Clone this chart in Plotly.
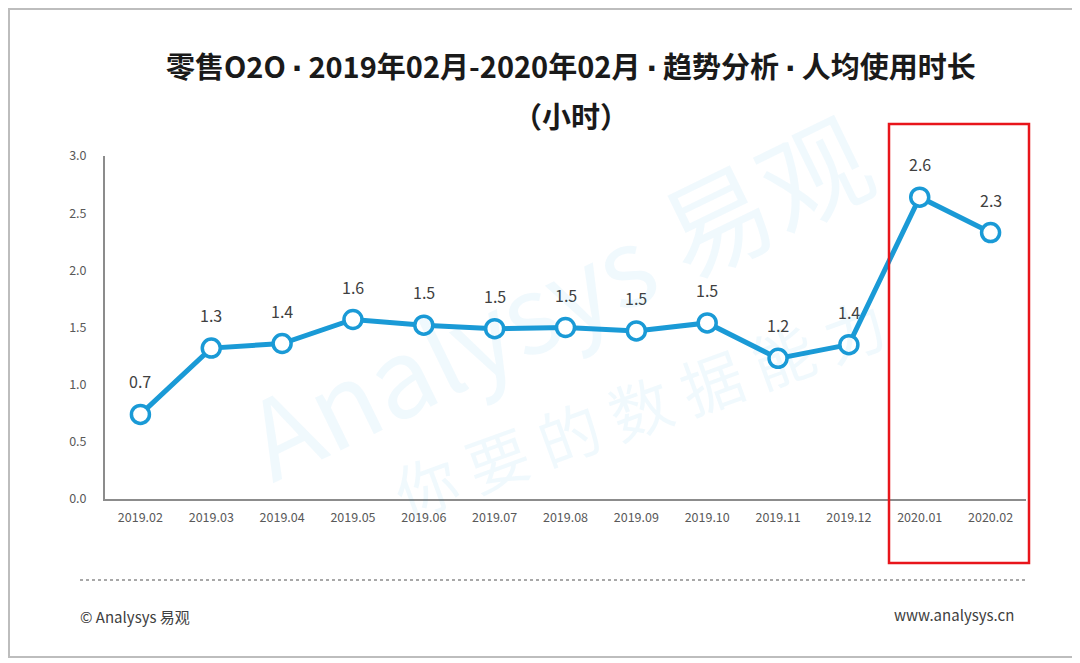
import plotly.graph_objects as go

months = ["2019.02", "2019.03", "2019.04", "2019.05", "2019.06", "2019.07", "2019.08",
          "2019.09", "2019.10", "2019.11", "2019.12", "2020.01", "2020.02"]
hours = [0.74, 1.32, 1.36, 1.57, 1.52, 1.49, 1.50, 1.47, 1.54, 1.23, 1.35, 2.64, 2.33]
labels = ["0.7", "1.3", "1.4", "1.6", "1.5", "1.5", "1.5", "1.5", "1.5", "1.2", "1.4", "2.6", "2.3"]
y_ticks = [0.0, 0.5, 1.0, 1.5, 2.0, 2.5, 3.0]

blue = "#1a9ad6"
font_cn = "Noto Sans CJK SC"

fig = go.Figure()
fig.add_trace(go.Scatter(
    x=months,
    y=hours,
    mode="lines+markers",
    line=dict(color=blue, width=5),
    marker=dict(size=18, color="white", line=dict(color=blue, width=3.5)),
    cliponaxis=False,
    hoverinfo="x+y",
))

# value labels above points (category index, since "2019.02" looks numeric)
for i, (v, t) in enumerate(zip(hours, labels)):
    fig.add_annotation(x=i, y=v, text=t, showarrow=False, yshift=33,
                       font=dict(size=16, color="#404040", family=font_cn))

# watermark
fig.add_annotation(text="Analysys 易观", xref="paper", yref="paper", x=0.49, y=0.6,
                   xanchor="center", yanchor="middle",
                   showarrow=False, textangle=-26,
                   font=dict(size=108, color="rgba(0,150,220,0.06)", family=font_cn))
fig.add_annotation(text="你 要 的 数 据 能 力", xref="paper", yref="paper", x=0.58, y=0.27,
                   xanchor="center", yanchor="middle",
                   showarrow=False, textangle=-20,
                   font=dict(size=62, color="rgba(0,150,220,0.06)", family=font_cn))

# titles
dot = "<span style='font-family:DejaVu Sans'>\u2009·\u2009</span>"
title1 = "<b>零售O2O" + dot + "2019年02月-2020年02月" + dot + "趋势分析" + dot + "人均使用时长</b>"
fig.add_annotation(text=title1,
                   xref="paper", yref="paper", x=(571 - 105) / 921, y=(499 - 65) / 343,
                   xanchor="center", yanchor="middle",
                   showarrow=False, font=dict(size=29, color="#1a1a1a", family=font_cn))
fig.add_annotation(text="<b>（小时）</b>",
                   xref="paper", yref="paper", x=(571 - 105) / 921, y=(499 - 115) / 343,
                   xanchor="center", yanchor="middle",
                   showarrow=False, font=dict(size=29, color="#1a1a1a", family=font_cn))

# footer
fig.add_annotation(text="© Analysys 易观", xref="paper", yref="paper",
                   x=(78 - 105) / 921, y=(499 - 616) / 343, xanchor="left", yanchor="middle",
                   showarrow=False, font=dict(size=15, color="#404040", family=font_cn))
fig.add_annotation(text="www.analysys.cn", xref="paper", yref="paper",
                   x=(1016 - 105) / 921, y=(499 - 614) / 343, xanchor="right", yanchor="middle",
                   showarrow=False, font=dict(size=15, color="#404040", family=font_cn))

# highlight box
fig.add_shape(type="rect", xref="paper", yref="paper",
              x0=(889 - 105) / 921, x1=(1029 - 105) / 921,
              y0=(499 - 563) / 343, y1=(499 - 124) / 343,
              line=dict(color="#e8151b", width=2.5))
# dotted separator
fig.add_shape(type="line", xref="paper", yref="paper",
              x0=(80 - 105) / 921, x1=(1027 - 105) / 921,
              y0=(499 - 580) / 343, y1=(499 - 580) / 343,
              line=dict(color="#8c8c8c", width=1.5, dash="dot"))
# outer frame
fig.add_shape(type="rect", xref="paper", yref="paper",
              x0=(9 - 105) / 921, x1=(1073 - 105) / 921,
              y0=(499 - 657) / 343, y1=(499 - 9) / 343,
              line=dict(color="#bdbdbd", width=2))

# page has an 8px body margin, so the figure is shifted back by 8px
fig.update_layout(
    width=1072, height=655,
    margin=dict(l=97, r=54, t=148, b=164),
    plot_bgcolor="white", paper_bgcolor="white",
    showlegend=False,
    font=dict(family=font_cn),
    xaxis=dict(
        type="category", range=[-0.5, 12.5],
        showline=True, linecolor="#8c8c8c", linewidth=2,
        showgrid=False, ticks="", zeroline=False,
        tickfont=dict(size=12.5, color="#595959"),
        ticklabelstandoff=6,
    ),
    yaxis=dict(
        range=[0, 3.0], tickvals=y_ticks, tickformat=".1f",
        showline=True, linecolor="#8c8c8c", linewidth=2,
        showgrid=False, ticks="", zeroline=False,
        tickfont=dict(size=12.5, color="#595959"),
        ticklabelstandoff=14,
    ),
)

fig.write_html("out.html")
